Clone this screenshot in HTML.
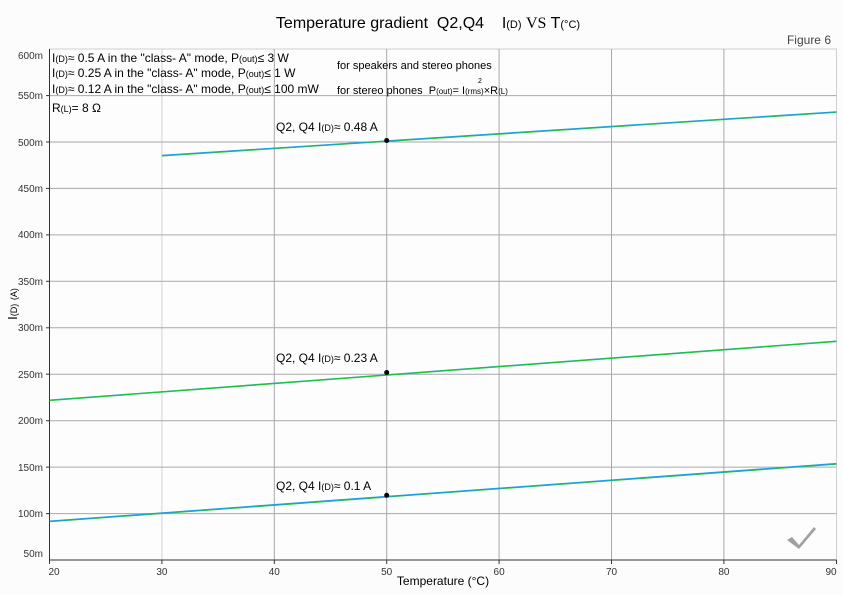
<!DOCTYPE html>
<html><head><meta charset="utf-8"><style>
html,body{margin:0;padding:0;background:#fcfcfc;}
svg{display:block;font-family:"Liberation Sans",sans-serif;}
</style></head><body>
<svg width="842" height="595" viewBox="0 0 842 595" xmlns="http://www.w3.org/2000/svg">
<rect width="842" height="595" fill="#fcfcfc"/>
<text x="428" y="28" font-size="16" text-anchor="middle" fill="#000">Temperature gradient &#160;Q2,Q4 &#160;&#160; I<tspan font-size="11">(D)</tspan> <tspan font-family="Liberation Serif">VS</tspan> T<tspan font-size="11">(°C)</tspan></text>
<text x="831" y="44" font-size="12" text-anchor="end" fill="#444">Figure 6</text>
<rect x="49.5" y="49" width="787" height="511" fill="#fdfdfd" stroke="#cfcfcf"/>
<g stroke="#a8a8a8" stroke-width="1">
<line x1="161.9" y1="49" x2="161.9" y2="560" stroke="#d2d2d2"/>
<line x1="274.3" y1="49" x2="274.3" y2="560"/>
<line x1="386.7" y1="49" x2="386.7" y2="560"/>
<line x1="499.1" y1="49" x2="499.1" y2="560"/>
<line x1="611.5" y1="49" x2="611.5" y2="560"/>
<line x1="723.9" y1="49" x2="723.9" y2="560"/>
<line x1="49.5" y1="95.6" x2="836.5" y2="95.6"/>
<line x1="49.5" y1="142" x2="836.5" y2="142"/>
<line x1="49.5" y1="188.4" x2="836.5" y2="188.4"/>
<line x1="49.5" y1="234.9" x2="836.5" y2="234.9"/>
<line x1="49.5" y1="281.3" x2="836.5" y2="281.3"/>
<line x1="49.5" y1="327.8" x2="836.5" y2="327.8"/>
<line x1="49.5" y1="374.2" x2="836.5" y2="374.2"/>
<line x1="49.5" y1="420.7" x2="836.5" y2="420.7"/>
<line x1="49.5" y1="467.1" x2="836.5" y2="467.1"/>
<line x1="49.5" y1="513.6" x2="836.5" y2="513.6"/>
</g>
<g stroke="#333" stroke-width="1">
<line x1="49.5" y1="49" x2="49.5" y2="560"/>
<line x1="49.5" y1="560" x2="836.5" y2="560"/>
<line x1="49.5" y1="560" x2="49.5" y2="564"/>
<line x1="161.9" y1="560" x2="161.9" y2="564"/>
<line x1="274.3" y1="560" x2="274.3" y2="564"/>
<line x1="386.7" y1="560" x2="386.7" y2="564"/>
<line x1="499.1" y1="560" x2="499.1" y2="564"/>
<line x1="611.5" y1="560" x2="611.5" y2="564"/>
<line x1="723.9" y1="560" x2="723.9" y2="564"/>
<line x1="836.5" y1="560" x2="836.5" y2="564"/>
<line x1="46" y1="95.6" x2="49.5" y2="95.6"/><line x1="46" y1="142" x2="49.5" y2="142"/>
<line x1="46" y1="188.4" x2="49.5" y2="188.4"/><line x1="46" y1="234.9" x2="49.5" y2="234.9"/>
<line x1="46" y1="281.3" x2="49.5" y2="281.3"/><line x1="46" y1="327.8" x2="49.5" y2="327.8"/>
<line x1="46" y1="374.2" x2="49.5" y2="374.2"/><line x1="46" y1="420.7" x2="49.5" y2="420.7"/>
<line x1="46" y1="467.1" x2="49.5" y2="467.1"/><line x1="46" y1="513.6" x2="49.5" y2="513.6"/>
</g>
<g font-size="10" fill="#333" text-anchor="end">
<text x="43" y="59">600m</text><text x="43" y="99">550m</text><text x="43" y="146">500m</text>
<text x="43" y="192">450m</text><text x="43" y="238">400m</text><text x="43" y="285">350m</text>
<text x="43" y="331">300m</text><text x="43" y="378">250m</text><text x="43" y="424">200m</text>
<text x="43" y="471">150m</text><text x="43" y="517">100m</text><text x="43" y="557">50m</text>
</g>
<g font-size="10" fill="#333" text-anchor="middle">
<text x="54" y="575">20</text><text x="161.9" y="575">30</text><text x="274.3" y="575">40</text>
<text x="386.7" y="575">50</text><text x="499.1" y="575">60</text><text x="611.5" y="575">70</text>
<text x="723.9" y="575">80</text><text x="831" y="575">90</text>
</g>
<text x="443" y="585" font-size="12" text-anchor="middle" fill="#000">Temperature (°C)</text>
<text transform="translate(17,304) rotate(-90)" font-size="13" text-anchor="middle" fill="#000">I<tspan font-size="9">(D)</tspan> <tspan font-size="9">(A)</tspan></text>
<g stroke-width="1.4" fill="none">
<line x1="161.9" y1="155.8" x2="836.5" y2="112.2" stroke="#22c040"/>
<line x1="161.9" y1="155.3" x2="836.5" y2="111.7" stroke="#1aa0e0" stroke-width="1"/>
<line x1="49.5" y1="400" x2="836.5" y2="341" stroke="#1aa0e0" stroke-width="1"/>
<line x1="49.5" y1="400.4" x2="836.5" y2="341.4" stroke="#22c040"/>
<line x1="49.5" y1="521.6" x2="836.5" y2="464" stroke="#22c040"/>
<line x1="49.5" y1="521.1" x2="836.5" y2="463.5" stroke="#1aa0e0" stroke-width="1.2"/>
</g>
<circle cx="386.7" cy="140.5" r="2.5" fill="#000"/>
<circle cx="386.7" cy="372.5" r="2.5" fill="#000"/>
<circle cx="386.7" cy="495.3" r="2.5" fill="#000"/>
<g font-size="12" fill="#000">
<text x="276" y="131">Q2, Q4 I<tspan font-size="9">(D)</tspan>≈ 0.48 A</text>
<text x="276" y="362">Q2, Q4 I<tspan font-size="9">(D)</tspan>≈ 0.23 A</text>
<text x="276" y="490">Q2, Q4 I<tspan font-size="9">(D)</tspan>≈ 0.1 A</text>
<text x="52" y="62">I<tspan font-size="9">(D)</tspan>≈ 0.5 A in the "class- A" mode, P<tspan font-size="9">(out)</tspan>≤ 3 W</text>
<text x="52" y="77">I<tspan font-size="9">(D)</tspan>≈ 0.25 A in the "class- A" mode, P<tspan font-size="9">(out)</tspan>≤ 1 W</text>
<text x="52" y="93">I<tspan font-size="9">(D)</tspan>≈ 0.12 A in the "class- A" mode, P<tspan font-size="9">(out)</tspan>≤ 100 mW</text>
<text x="52" y="112">R<tspan font-size="9">(L)</tspan>= 8 Ω</text>
<text x="337" y="69" font-size="11">for speakers and stereo phones</text>
<text x="337" y="94" font-size="11">for stereo phones &#160;P<tspan font-size="8">(out)</tspan>= I<tspan font-size="8">(rms)</tspan>×R<tspan font-size="8">(L)</tspan></text>
<text x="478" y="83" font-size="7">2</text>
</g>
<path d="M787 540 L792 537 L799 545 L814 527 L816 529 L799 549 Z" fill="#a0a0a0"/>
</svg>
</body></html>
